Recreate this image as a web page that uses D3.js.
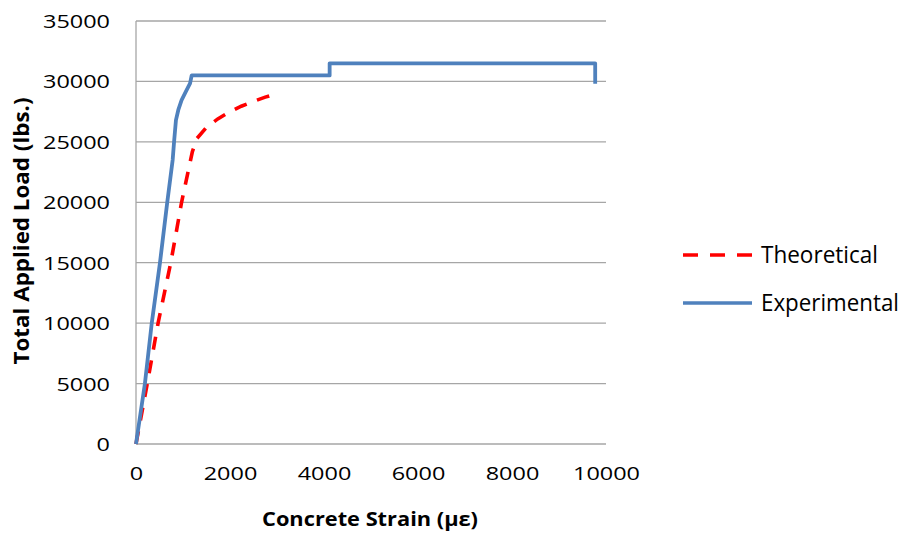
<!DOCTYPE html>
<html>
<head>
<meta charset="utf-8">
<script src="https://cdn.jsdelivr.net/npm/d3@7"></script>
<style>
  html, body { margin: 0; padding: 0; background: #fff; }
  svg { display: block; }
  text { font-family: "Open Sans", "Noto Sans", sans-serif; fill: #000; }
</style>
</head>
<body>
<svg id="chart" width="909" height="537"></svg>
<script>
// Load–strain data (strain in µε, load in lbs.)
const theoreticalStrain = [0, 240, 470, 740, 970, 1200, 1300, 1500, 1740, 1980, 2240, 2500, 2750, 3000];
const theoreticalLoad   = [0, 5000, 10000, 15000, 20000, 24200, 25300, 26200, 26900, 27450, 27950, 28350, 28700, 29000];

const experimentalStrain = [0, 190, 335, 510, 665, 780, 810, 850, 900, 970, 1060, 1150, 1185, 4120, 4120, 9770, 9770];
const experimentalLoad   = [0, 5000, 10000, 15000, 20000, 23500, 25000, 26800, 27640, 28460, 29150, 29840, 30500, 30500, 31500, 31500, 29800];

const xTicks = [0, 2000, 4000, 6000, 8000, 10000];
const yTicks = [0, 5000, 10000, 15000, 20000, 25000, 30000, 35000];

const seriesNames = ["Theoretical", "Experimental"];
const seriesColors = ["#FF0000", "#4F81BD"];

const svg = d3.select("#chart");
const margin = { left: 136, right: 303, top: 21, bottom: 93 };
const W = 909, H = 537;

const x = d3.scaleLinear().domain([0, 10000]).range([margin.left, W - margin.right]);
const y = d3.scaleLinear().domain([0, 35000]).range([H - margin.bottom, margin.top]);

// Horizontal gridlines
svg.append("g")
  .selectAll("line")
  .data(yTicks)
  .join("line")
  .attr("x1", x(0)).attr("x2", x(10000))
  .attr("y1", d => y(d)).attr("y2", d => y(d))
  .attr("stroke", "#A6A6A6").attr("stroke-width", 1.3);

// Vertical axis line
svg.append("line")
  .attr("x1", x(0)).attr("x2", x(0))
  .attr("y1", y(0)).attr("y2", y(35000))
  .attr("stroke", "#A6A6A6").attr("stroke-width", 1.3);

// Tick labels via d3 axes (tick marks and domain hidden)
const digitW = 13.4;
const yAxis = svg.append("g")
  .attr("transform", `translate(${x(0) - 26},0)`)
  .call(d3.axisLeft(y).tickValues(yTicks).tickSize(0).tickPadding(0).tickFormat(d3.format("d")));
yAxis.select(".domain").remove();
yAxis.selectAll("text")
  .attr("font-size", 18).attr("dy", "0.36em").attr("fill", "#000")
  .attr("textLength", d => String(d).length * digitW)
  .attr("lengthAdjust", "spacingAndGlyphs")
  .style("font-family", "'Open Sans', sans-serif");

const xAxis = svg.append("g")
  .attr("transform", `translate(0,${y(0) + 36})`)
  .call(d3.axisBottom(x).tickValues(xTicks).tickSize(0).tickPadding(0).tickFormat(d3.format("d")));
xAxis.select(".domain").remove();
xAxis.selectAll("text")
  .attr("font-size", 18).attr("dy", 0).attr("fill", "#000")
  .attr("textLength", d => String(d).length * digitW)
  .attr("lengthAdjust", "spacingAndGlyphs")
  .style("font-family", "'Open Sans', sans-serif");

// Series lines
const line = d3.line().x(d => x(d[0])).y(d => y(d[1]));
const theoretical = theoreticalStrain.map((s, i) => [s, theoreticalLoad[i]]);
const experimental = experimentalStrain.map((s, i) => [s, experimentalLoad[i]]);

svg.append("path")
  .datum(theoretical)
  .attr("d", line)
  .attr("fill", "none")
  .attr("stroke", seriesColors[0])
  .attr("stroke-width", 3.6)
  .attr("stroke-dasharray", "13,11");

svg.append("path")
  .datum(experimental)
  .attr("d", line)
  .attr("fill", "none")
  .attr("stroke", seriesColors[1])
  .attr("stroke-width", 3.8)
  .attr("stroke-linejoin", "round");

// Axis titles
svg.append("text")
  .attr("x", 370).attr("y", 526)
  .attr("text-anchor", "middle")
  .attr("font-size", 19).attr("font-weight", "bold")
  .attr("textLength", 216).attr("lengthAdjust", "spacingAndGlyphs")
  .text("Concrete Strain (με)");

svg.append("text")
  .attr("transform", "translate(29,231) rotate(-90)")
  .attr("text-anchor", "middle")
  .attr("font-size", 21).attr("font-weight", "bold")
  .attr("textLength", 267).attr("lengthAdjust", "spacingAndGlyphs")
  .text("Total Applied Load (lbs.)");

// Legend
const legendY = [255, 303];
const legendW = [117, 138];
const legend = svg.append("g");
seriesNames.forEach((name, i) => {
  legend.append("line")
    .attr("x1", 683).attr("x2", 752)
    .attr("y1", legendY[i]).attr("y2", legendY[i])
    .attr("stroke", seriesColors[i]).attr("stroke-width", 3.6)
    .attr("stroke-dasharray", i === 0 ? "15,12" : null);
  legend.append("text")
    .attr("x", 761).attr("y", legendY[i] + 8)
    .attr("font-size", 23)
    .attr("textLength", legendW[i]).attr("lengthAdjust", "spacingAndGlyphs")
    .attr("fill", "#1a1a1a")
    .text(name);
});
</script>
</body>
</html>
